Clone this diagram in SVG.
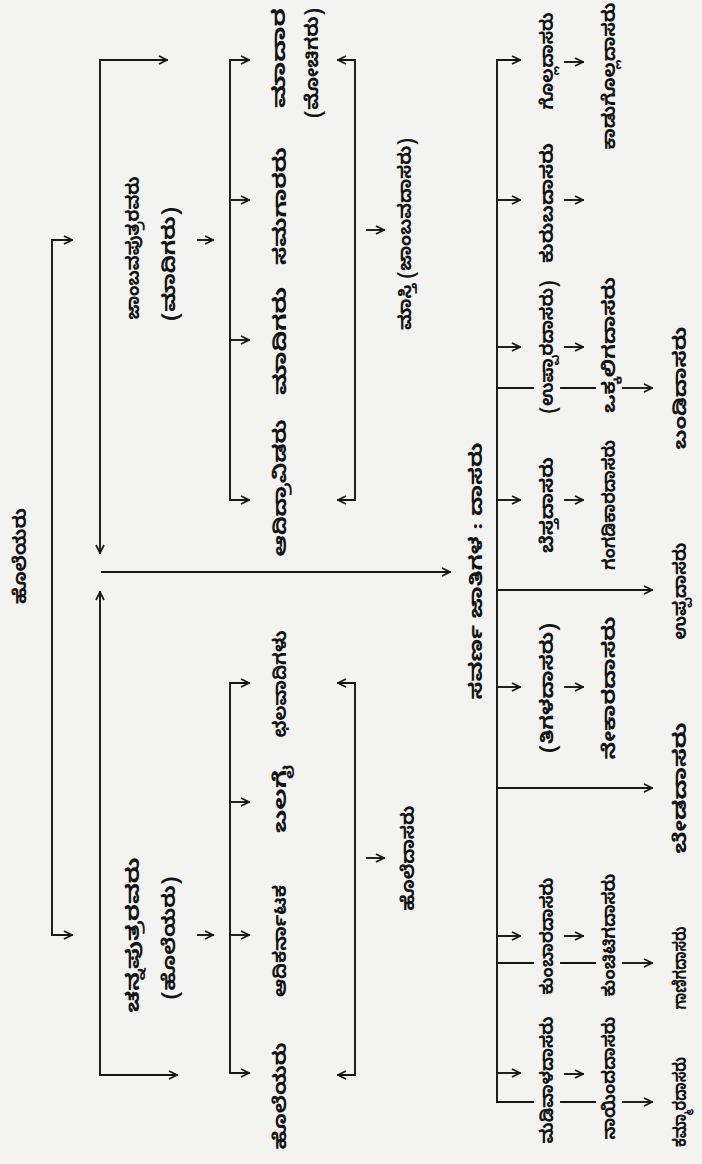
<svg xmlns="http://www.w3.org/2000/svg" width="702" height="1164" viewBox="0 0 702 1164">
<defs>
<style>
.t{font-family:"Noto Sans Kannada","Noto Sans","DejaVu Sans",sans-serif;font-size:18px;font-weight:bold;fill:#141414;text-anchor:middle}
.c{fill:none;stroke:#161616;stroke-width:1.9;stroke-linecap:square}
.a{marker-end:url(#ah)}
.b{marker-start:url(#ah);marker-end:url(#ah)}
</style>
<marker id="ah" viewBox="0 0 10 10" refX="9" refY="5" markerWidth="10" markerHeight="10" markerUnits="userSpaceOnUse" orient="auto-start-reverse">
<path d="M1,1 L9,5 L1,9" fill="none" stroke="#161616" stroke-width="1.7"/>
</marker>
</defs>
<rect width="702" height="1164" fill="#f3f3f1"/>
<g id="connectors">
<path class="c b" d="M72,240 H52 V935 H72"/>
<path class="c b" d="M167,60 H100 V553"/>
<path class="c b" d="M100,592 V1075 H177"/>
<path class="c a" d="M102,572 H450"/>
<path class="c a" d="M198,240 H213"/>
<path class="c a" d="M198,935 H213"/>
<path class="c b" d="M249,60 H230 V500 H249"/>
<path class="c a" d="M230,200 H249"/>
<path class="c a" d="M230,340 H249"/>
<path class="c b" d="M249,683 H230 V1073 H249"/>
<path class="c a" d="M230,802 H249"/>
<path class="c a" d="M230,935 H249"/>
<path class="c b" d="M338,60 H355 V500 H338"/>
<path class="c b" d="M338,683 H355 V1075 H338"/>
<path class="c a" d="M367,230 H384"/>
<path class="c a" d="M367,858 H384"/>
<path class="c" marker-start="url(#ah)" d="M520,60 H497 V1102"/>
<path class="c a" d="M497,200 H520"/>
<path class="c a" d="M497,347 H520"/>
<path class="c a" d="M497,500 H520"/>
<path class="c a" d="M497,687 H520"/>
<path class="c a" d="M497,936 H520"/>
<path class="c a" d="M497,1073 H520"/>
<path class="c a" d="M565,62 H583"/>
<path class="c a" d="M565,200 H583"/>
<path class="c a" d="M565,347 H583"/>
<path class="c a" d="M565,500 H583"/>
<path class="c a" d="M565,687 H583"/>
<path class="c a" d="M565,936 H583"/>
<path class="c a" d="M565,1074 H583"/>
<path class="c" d="M497,388 H533 M561,388 H595"/>
<path class="c a" d="M623,388 H652"/>
<path class="c a" d="M497,590 H652"/>
<path class="c a" d="M497,788 H652"/>
<path class="c" d="M497,963 H533 M561,963 H595"/>
<path class="c a" d="M623,963 H652"/>
<path class="c" d="M497,1102 H533 M561,1102 H595"/>
<path class="c a" d="M623,1102 H652"/>
</g>
<g id="root"><text class="t" transform="translate(26,556) rotate(-90)" textLength="96" lengthAdjust="spacingAndGlyphs">ಹೊಲೆಯರು</text></g>
<g id="branch-top">
<text class="t" transform="translate(139,248) rotate(-90)" textLength="143" lengthAdjust="spacingAndGlyphs">ಜಾಂಬವಪುತ್ರರವರು</text>
<text class="t" transform="translate(175,264) rotate(-90)" textLength="114" lengthAdjust="spacingAndGlyphs">(ಮಾದಿಗರು)</text>
</g>
<g id="branch-bottom">
<text class="t" transform="translate(139,935) rotate(-90)" textLength="155" lengthAdjust="spacingAndGlyphs">ಚನ್ನಪುತ್ರರವರು</text>
<text class="t" transform="translate(175,938) rotate(-90)" textLength="123" lengthAdjust="spacingAndGlyphs">(ಹೊಲೆಯರು)</text>
</g>
<g id="u1">
<text class="t" transform="translate(285,58) rotate(-90)" textLength="100" lengthAdjust="spacingAndGlyphs">ಮಾದಾರ</text>
<text class="t" transform="translate(318,63) rotate(-90)" textLength="110" lengthAdjust="spacingAndGlyphs">(ಮೋಚಿಗರು)</text>
</g>
<g id="u2"><text class="t" transform="translate(286,206) rotate(-90)" textLength="118" lengthAdjust="spacingAndGlyphs">ಸಮಗಾರರು</text></g>
<g id="u3"><text class="t" transform="translate(286,341) rotate(-90)" textLength="108" lengthAdjust="spacingAndGlyphs">ಮಾದಿಗರು</text></g>
<g id="u4"><text class="t" transform="translate(286,488) rotate(-90)" textLength="137" lengthAdjust="spacingAndGlyphs">ಆದಿದ್ರಾವಿಡರು</text></g>
<g id="l1"><text class="t" transform="translate(286,684) rotate(-90)" textLength="107" lengthAdjust="spacingAndGlyphs">ಛಲವಾದಿಗಳು</text></g>
<g id="l2"><text class="t" transform="translate(286,799) rotate(-90)" textLength="68" lengthAdjust="spacingAndGlyphs">ಬಲಗೈ</text></g>
<g id="l3"><text class="t" transform="translate(286,941) rotate(-90)" textLength="112" lengthAdjust="spacingAndGlyphs">ಆದಿಕರ್ನಾಟಕ</text></g>
<g id="l4"><text class="t" transform="translate(286,1096) rotate(-90)" textLength="107" lengthAdjust="spacingAndGlyphs">ಹೊಲೆಯರು</text></g>
<g id="p1"><text class="t" transform="translate(411,234) rotate(-90)" textLength="192" lengthAdjust="spacingAndGlyphs">ಮಾಸ್ತಿ  (ಜಾಂಬವದಾಸರು)</text></g>
<g id="p2"><text class="t" transform="translate(414,858) rotate(-90)" textLength="105" lengthAdjust="spacingAndGlyphs">ಹೊಲೆದಾಸರು</text></g>
<g id="center"><text class="t" transform="translate(482,571) rotate(-90)" textLength="257" lengthAdjust="spacingAndGlyphs">ಸವರ್ಣ ಜಾತಿಗಳ : ದಾಸರು</text></g>
<g id="a1"><text class="t" transform="translate(553,61) rotate(-90)" textLength="97" lengthAdjust="spacingAndGlyphs">ಗೊಲ್ಲದಾಸರು</text></g>
<g id="a2"><text class="t" transform="translate(553,203) rotate(-90)" textLength="120" lengthAdjust="spacingAndGlyphs">ಕುರುಬದಾಸರು</text></g>
<g id="a3"><text class="t" transform="translate(553,347) rotate(-90)" textLength="133" lengthAdjust="spacingAndGlyphs">(ಉಪ್ಪಾರದಾಸರು)</text></g>
<g id="a4"><text class="t" transform="translate(553,505) rotate(-90)" textLength="96" lengthAdjust="spacingAndGlyphs">ಬೆಸ್ತದಾಸರು</text></g>
<g id="a5"><text class="t" transform="translate(553,688) rotate(-90)" textLength="130" lengthAdjust="spacingAndGlyphs">(ತಿಗಳದಾಸರು)</text></g>
<g id="a6"><text class="t" transform="translate(553,936) rotate(-90)" textLength="117" lengthAdjust="spacingAndGlyphs">ಕುಂಬಾರದಾಸರು</text></g>
<g id="a7"><text class="t" transform="translate(553,1080) rotate(-90)" textLength="127" lengthAdjust="spacingAndGlyphs">ಮಡಿವಾಳದಾಸರು</text></g>
<g id="b1"><text class="t" transform="translate(615,76) rotate(-90)" textLength="147" lengthAdjust="spacingAndGlyphs">ಕಾಡುಗೊಲ್ಲದಾಸರು</text></g>
<g id="b3"><text class="t" transform="translate(615,345) rotate(-90)" textLength="136" lengthAdjust="spacingAndGlyphs">ಒಕ್ಕಲಿಗದಾಸರು</text></g>
<g id="b4"><text class="t" transform="translate(615,505) rotate(-90)" textLength="130" lengthAdjust="spacingAndGlyphs">ಗಂಗಡಿಕಾರದಾಸರು</text></g>
<g id="b5"><text class="t" transform="translate(615,688) rotate(-90)" textLength="143" lengthAdjust="spacingAndGlyphs">ನೇಕಾರದಾಸರು</text></g>
<g id="b6"><text class="t" transform="translate(615,935) rotate(-90)" textLength="123" lengthAdjust="spacingAndGlyphs">ಕುಂಚಿಟಿಗದಾಸರು</text></g>
<g id="b7"><text class="t" transform="translate(615,1078) rotate(-90)" textLength="123" lengthAdjust="spacingAndGlyphs">ನಾಯಿಂದದಾಸರು</text></g>
<g id="c1"><text class="t" transform="translate(686,388) rotate(-90)" textLength="123" lengthAdjust="spacingAndGlyphs">ಬಂಡಿದಾಸರು</text></g>
<g id="c2"><text class="t" transform="translate(686,591) rotate(-90)" textLength="97" lengthAdjust="spacingAndGlyphs">ಉಪ್ಪದಾಸರು</text></g>
<g id="c3"><text class="t" transform="translate(686,788) rotate(-90)" textLength="131" lengthAdjust="spacingAndGlyphs">ಬೇಡದಾಸರು</text></g>
<g id="c4"><text class="t" transform="translate(686,968) rotate(-90)" textLength="83" lengthAdjust="spacingAndGlyphs">ಗಾಣಿಗದಾಸರು</text></g>
<g id="c5"><text class="t" transform="translate(686,1102) rotate(-90)" textLength="90" lengthAdjust="spacingAndGlyphs">ಕಮ್ಮಾರದಾಸರು</text></g>
</svg>
